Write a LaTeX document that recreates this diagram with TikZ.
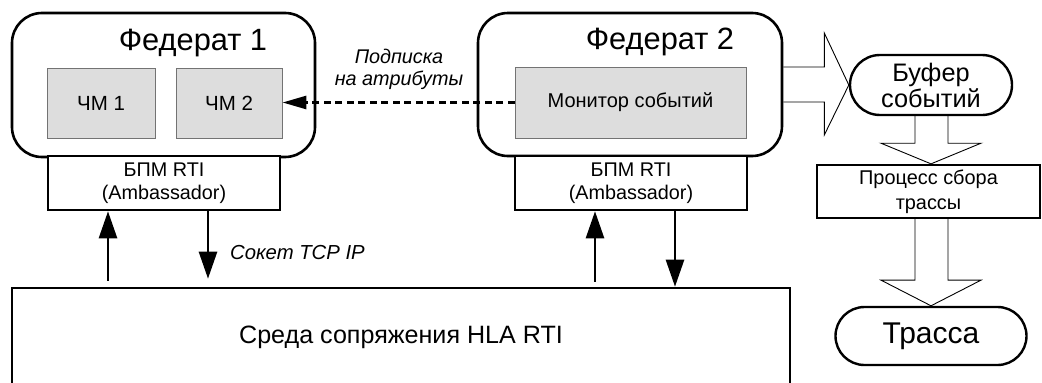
\documentclass[tikz,border=0pt]{standalone}
\usepackage{fontspec}
\setmainfont{Liberation Sans}
\usetikzlibrary{arrows.meta,calc}
\pgfdeclarelayer{bg}
\pgfsetlayers{bg,main}
\begin{document}
\begin{tikzpicture}[x=1pt,y=-1pt,
  fedbox/.style={draw, line width=2.6pt, rounded corners=30pt, inner sep=0pt},
  title/.style={inner sep=0pt, font=\fontsize{30.8}{34}\selectfont},
  chm/.style={draw=black!55, line width=0.9pt, fill=black!13.5, inner sep=0pt, font=\fontsize{20.5}{24}\selectfont},
  bpm/.style={draw, line width=2.6pt, fill=white, inner sep=0pt, align=center, font=\fontsize{19.8}{23}\selectfont},
  stadium/.style={draw, line width=2.4pt, fill=white, inner sep=0pt, align=center},
  procbox/.style={draw, line width=2.3pt, fill=white, inner sep=0pt, align=center, font=\fontsize{19.9}{25}\selectfont},
  lbl/.style={inner sep=0pt, align=center, font=\fontsize{19.8}{22}\selectfont\itshape},
  arr/.style={line width=2.6pt, -{Triangle[length=27pt,width=18pt]}},
  dasharr/.style={line width=2.8pt, dash pattern=on 7pt off 4.5pt, -{Triangle[length=24pt,width=13pt]}},
  hollow/.style={draw, line width=0.9pt, fill=white, line join=miter}
]
\useasboundingbox (0,0) rectangle (1042,383);
\begin{pgfonlayer}{bg}
\fill[white] (0,0) rectangle (1042,383);
\end{pgfonlayer}
\clip (0,0) rectangle (1042,383);

% Federat 1
\node[fedbox, minimum width=303pt, minimum height=144pt] (fed1) at (163.5,85) {};
\node[title] (fed1t) at (193,43) {Федерат 1};
\node[chm, minimum width=108pt, minimum height=70pt] (ch1) at (101,103) {ЧМ 1};
\node[chm, minimum width=106pt, minimum height=70pt] (ch2) at (229,103) {ЧМ 2};
\node[bpm, minimum width=232pt, minimum height=54pt] (bpm1) at (164,183) {БПМ RTI\\(Ambassador)};

% Federat 2
\node[fedbox, minimum width=304pt, minimum height=143pt] (fed2) at (630,84.5) {};
\node[title] (fed2t) at (660,42) {Федерат 2};
\node[chm, minimum width=231pt, minimum height=71pt, font=\fontsize{20}{22}\selectfont] (mon) at (630.5,102.5) {Монитор событий};
\node[bpm, minimum width=232pt, minimum height=54pt] (bpm2) at (631,183) {БПМ RTI\\(Ambassador)};

% right column
\node[stadium, minimum width=162pt, minimum height=60pt, rounded corners=30pt, font=\fontsize{25.3}{26}\selectfont] (buf) at (931,85) {Буфер\\событий};
\node[procbox, minimum width=223pt, minimum height=53pt] (proc) at (928.5,191.5) {Процесс сбора\\трассы};
\node[stadium, minimum width=191pt, minimum height=58pt, rounded corners=29pt, font=\fontsize{30}{32}\selectfont] (trasse) at (931,336) {Трасса};

% RTI
\node[draw, line width=2.6pt, inner sep=0pt, minimum width=778pt, minimum height=98pt, font=\fontsize{25.1}{28}\selectfont] (rti) at (401,337) {Среда сопряжения HLA RTI};

% labels
\node[lbl] (subs) at (399,69) {Подписка\\на атрибуты};
\node[lbl, anchor=west, font=\fontsize{20.3}{22}\selectfont\itshape] (sock) at (230,253) {Сокет TCP IP};

% dashed subscription arrow
\draw[dasharr] (mon.west) -- (mon.west -| ch2.east);

% RTI arrows
\draw[arr, shorten <=6pt] ([xshift=-56pt]bpm1.south |- rti.north) -- ([xshift=-56pt]bpm1.south);
\draw[arr, shorten >=8pt] ([xshift=44pt]bpm1.south) -- ([xshift=44pt]bpm1.south |- rti.north);
\draw[arr, shorten <=5pt] ([xshift=-36pt]bpm2.south |- rti.north) -- ([xshift=-36pt]bpm2.south);
\draw[arr] ([xshift=44pt]bpm2.south) -- ([xshift=44pt]bpm2.south |- rti.north);

% hollow arrows
\begin{pgfonlayer}{bg}
\draw[hollow] ($(fed2.east)+(0,-17.5)$) -- ++(41,0) -- ++(0,-34) -- (buf.west)
  -- ($(fed2.east)+(41,50.5)$) -- ++(0,-33) -- ++(-41,0);
\draw[hollow] ($(buf.south)+(-16,0)$) -- ++(0,27) -- ++(-34,0) -- (buf.south |- proc.north)
  -- ($(buf.south)+(50,27)$) -- ++(-33,0) -- ++(0,-27);
\draw[hollow] ($(proc.south -| trasse.north)+(-16,0)$) -- ++(0,61) -- ++(-34,0) -- (trasse.north)
  -- ($(proc.south -| trasse.north)+(50,61)$) -- ++(-33,0) -- ++(0,-61);
\end{pgfonlayer}
\end{tikzpicture}
\end{document}
